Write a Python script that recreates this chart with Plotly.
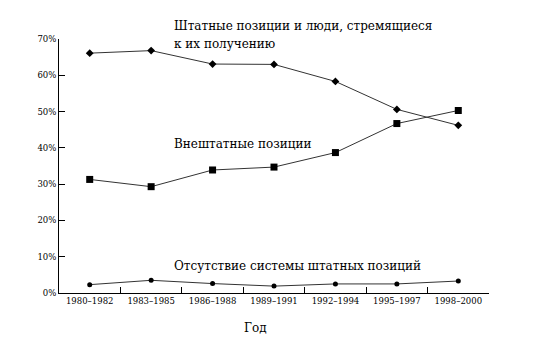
import plotly.graph_objects as go

periods = ["1980–1982", "1983–1985", "1986–1988", "1989–1991",
           "1992–1994", "1995–1997", "1998–2000"]
tenure_track = [66.1, 66.8, 63.1, 63.0, 58.3, 50.6, 46.2]
non_tenure = [31.3, 29.3, 33.9, 34.7, 38.7, 46.7, 50.3]
no_tenure_system = [2.3, 3.5, 2.6, 1.9, 2.5, 2.5, 3.3]
y_ticks = [0, 10, 20, 30, 40, 50, 60, 70]

FONT = "DejaVu Serif"
line_style = dict(color="#333333", width=1)

fig = go.Figure()
fig.add_trace(go.Scatter(x=periods, y=tenure_track, mode="lines+markers",
                         line=line_style,
                         marker=dict(symbol="diamond", size=6, color="black")))
fig.add_trace(go.Scatter(x=periods, y=non_tenure, mode="lines+markers",
                         line=line_style,
                         marker=dict(symbol="square", size=7, color="black")))
fig.add_trace(go.Scatter(x=periods, y=no_tenure_system, mode="lines+markers",
                         line=line_style,
                         marker=dict(symbol="circle", size=5, color="black")))

label_font = dict(family=FONT, size=12, color="black")
series_labels = [
    ("Штатные позиции и люди, стремящиеся", 1.050),
    ("к их получению", 0.982),
    ("Внештатные позиции", 0.585),
    ("Отсутствие системы штатных позиций", 0.108),
]
for text, ypos in series_labels:
    fig.add_annotation(x=0.263, y=ypos, xref="paper", yref="paper",
                       xanchor="left", yanchor="middle", text=text,
                       showarrow=False, font=label_font)
fig.add_annotation(x=0.458, y=-0.138, xref="paper", yref="paper",
                   xanchor="center", yanchor="middle",
                   text="Год", showarrow=False, font=label_font)

fig.update_layout(
    width=537, height=350,
    margin=dict(l=59, r=48, t=39, b=57),
    paper_bgcolor="white", plot_bgcolor="white",
    showlegend=False,
    font=dict(family=FONT, color="black"),
)
fig.update_xaxes(
    range=[-0.5, 6.5], tickson="boundaries", ticks="inside", ticklen=6,
    tickcolor="black", showline=True, linecolor="black", linewidth=1,
    showgrid=False, zeroline=False, tickangle=0,
    tickfont=dict(family=FONT, size=8.5),
)
fig.update_yaxes(
    range=[0, 70], tickvals=y_ticks, ticktext=[f"{v}%" for v in y_ticks],
    ticks="inside", ticklen=6, tickcolor="black", showline=True,
    linecolor="black", linewidth=1, showgrid=False, zeroline=False,
    tickfont=dict(family=FONT, size=8.5),
)

fig.write_html("out.html")
